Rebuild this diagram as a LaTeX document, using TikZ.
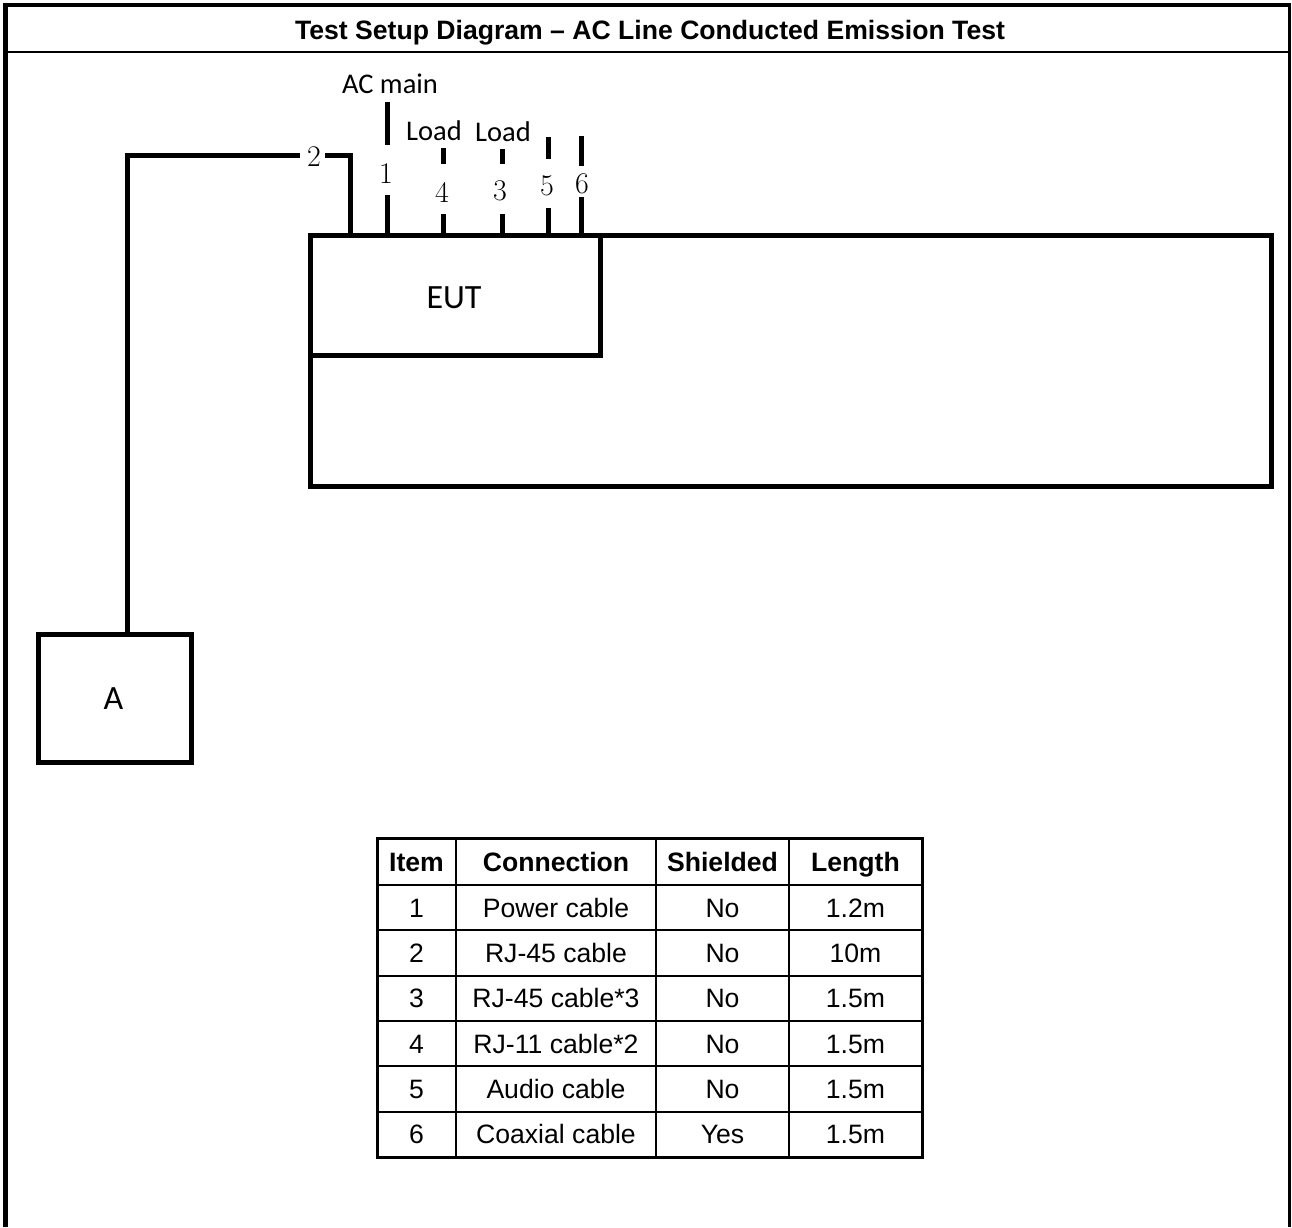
\documentclass[tikz,border=0pt]{standalone}
\usepackage{fontspec}
\newfontfamily\arialfont{Liberation Sans}
\newfontfamily\calfont{Carlito}
\begin{document}
\begin{tikzpicture}[x=1pt,y=-1pt,
  wire/.style={line width=5pt},
  unitbox/.style={draw, line width=5pt, inner sep=0pt, outer sep=0pt, anchor=north west},
  boxlabel/.style={font=\calfont\fontsize{34}{38}\selectfont, inner sep=0pt},
  cablelabel/.style={font=\calfont\fontsize{28.5}{32}\selectfont, inner sep=0pt},
  portnum/.style={font=\fontsize{30}{34}\selectfont, inner sep=0pt},
  headcell/.style={font=\arialfont\bfseries\fontsize{26.6}{30}\selectfont, inner sep=0pt,
    text height=19pt, text depth=0pt},
  bodycell/.style={font=\arialfont\fontsize{26.6}{30}\selectfont, inner sep=0pt,
    text height=19pt, text depth=0pt},
  grid/.style={line width=2pt},
  gridframe/.style={line width=3pt}]
\useasboundingbox (0,0) rectangle (1292,1227);

% outer frame and title bar
\draw[line width=4.5pt] (5.5,1227) -- (5.5,5) -- (1289.5,5);
\draw[line width=3pt] (1289.5,3) -- (1289.5,1227);
\draw[line width=2.5pt] (5.5,52) -- (1289.5,52);
\node[headcell] (title) at (650,30)
  {Test Setup Diagram – AC Line Conducted Emission Test};

% table / ground plane and EUT
\node[unitbox, minimum width=961pt, minimum height=251pt] (plane) at (310,235) {};
\node[unitbox, minimum width=290pt, minimum height=120pt] (eut) at (310,235) {};
\node[boxlabel, text height=22pt, text depth=0pt] (eutlabel) at (454,297) {EUT};

% auxiliary unit A
\node[unitbox, minimum width=152.5pt, minimum height=127.5pt] (aux) at (38.5,634.5) {};
\node[boxlabel, text height=22pt, text depth=0pt] (auxlabel) at (113.5,698.5) {A};

% cable 2: EUT to A
\coordinate (a2) at (127,634.5);
\coordinate (c2a) at (127,155);
\coordinate (c2b) at (300,155);
\coordinate (c2c) at (325,155);
\coordinate (c2d) at (350,155);
\coordinate (e2) at (350,235);
\draw[wire] (a2) -- (c2a) -- (c2b);
\draw[wire] (c2c) -- (c2d) -- (e2);
\node[portnum] (n2) at (314,157) {2};

% cable 1: AC main
\coordinate (t1) at (387,101.5);
\coordinate (m1) at (387,145);
\coordinate (b1) at (387,195);
\coordinate (e1) at (387,235);
\draw[wire] (t1) -- (m1);
\draw[wire] (b1) -- (e1);
\node[portnum] (n1) at (386,174) {1};
\node[cablelabel] (acmain) at (390,84) {AC main};

% cable 4: load
\coordinate (t4) at (443,148);
\coordinate (m4) at (443,164);
\coordinate (b4) at (443,214);
\coordinate (e4) at (443,235);
\draw[wire] (t4) -- (m4);
\draw[wire] (b4) -- (e4);
\node[portnum] (n4) at (442,192) {4};
\node[cablelabel] (load4) at (434,131) {Load};

% cable 3: load
\coordinate (t3) at (502,149);
\coordinate (m3) at (502,164);
\coordinate (b3) at (502,214);
\coordinate (e3) at (502,235);
\draw[wire] (t3) -- (m3);
\draw[wire] (b3) -- (e3);
\node[portnum] (n3) at (500,191) {3};
\node[cablelabel] (load3) at (503,132) {Load};

% cable 5
\coordinate (t5) at (548,137);
\coordinate (m5) at (548,159);
\coordinate (b5) at (548,208);
\coordinate (e5) at (548,235);
\draw[wire] (t5) -- (m5);
\draw[wire] (b5) -- (e5);
\node[portnum] (n5) at (547,186) {5};

% cable 6
\coordinate (t6) at (581,136);
\coordinate (m6) at (581,166);
\coordinate (b6) at (581,197);
\coordinate (e6) at (581,235);
\draw[wire] (t6) -- (m6);
\draw[wire] (b6) -- (e6);
\node[portnum] (n6) at (582,184) {6};

% cable list
\draw[grid] (456,838) -- (456,1157);
\draw[grid] (656,838) -- (656,1157);
\draw[grid] (789,838) -- (789,1157);
\foreach \y in {885,930.3,975.7,1021,1066.3,1111.7}
  \draw[grid] (377,\y) -- (922,\y);
\draw[gridframe] (377,838) rectangle (922,1157);

\node[headcell] (hItem) at (416.5,862) {Item};
\node[headcell] (hConn) at (556,862) {Connection};
\node[headcell] (hShld) at (722.5,862) {Shielded};
\node[headcell] (hLen)  at (855.5,862) {Length};

\foreach \i/\c/\s/\l [count=\k] in {
    1/Power cable/No/1.2m,
    2/RJ-45 cable/No/10m,
    3/RJ-45 cable*3/No/1.5m,
    4/RJ-11 cable*2/No/1.5m,
    5/Audio cable/No/1.5m,
    6/Coaxial cable/Yes/1.5m}{
  \pgfmathsetmacro{\ry}{885+45.33*(\k-0.5)}
  \node[bodycell] (item\k) at (416.5,\ry) {\i};
  \node[bodycell] (conn\k) at (556,\ry) {\c};
  \node[bodycell] (shld\k) at (722.5,\ry) {\s};
  \node[bodycell] (len\k)  at (855.5,\ry) {\l};
}
\end{tikzpicture}
\end{document}
